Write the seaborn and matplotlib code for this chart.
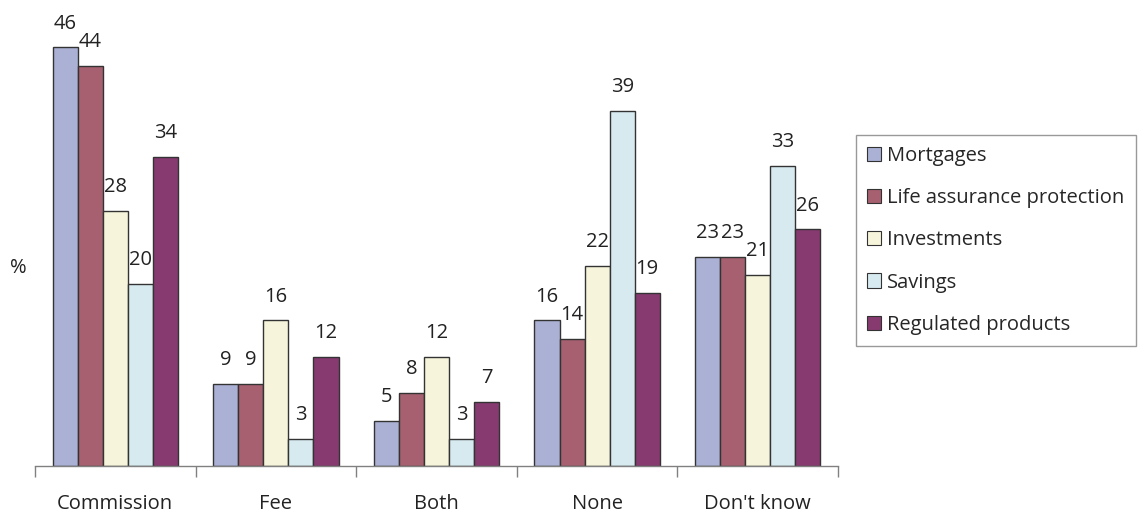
import matplotlib
matplotlib.use("Agg")
import matplotlib.pyplot as plt
import seaborn as sns
import pandas as pd
from matplotlib.ticker import FixedLocator

categories = ["Commission", "Fee", "Both", "None", "Don't know"]
series = ["Mortgages", "Life assurance protection", "Investments", "Savings", "Regulated products"]
mortgages = [46, 9, 5, 16, 23]
life_assurance = [44, 9, 8, 14, 23]
investments = [28, 16, 12, 22, 21]
savings = [20, 3, 3, 39, 33]
regulated = [34, 12, 7, 19, 26]
colors = ["#abb1d5", "#a6606f", "#f6f4da", "#d7eaf0", "#873a70"]

values = [mortgages, life_assurance, investments, savings, regulated]
df = pd.DataFrame(
    [(cat, s, v[i]) for s, v in zip(series, values) for i, cat in enumerate(categories)],
    columns=["category", "product", "pct"],
)

sns.set_theme(style="white")
plt.rcParams["font.family"] = ["Open Sans", "DejaVu Sans"]
FS = 14.5

fig = plt.figure(figsize=(11.4, 5.12), dpi=100)
ax = fig.add_axes([35 / 1140, 46 / 512, 803 / 1140, 455 / 512])

sns.barplot(
    data=df, x="category", y="pct", hue="product", hue_order=series,
    order=categories, palette=colors, width=0.78, gap=0,
    edgecolor="#333333", linewidth=1.0, saturation=1, ax=ax, legend=True,
)

for cont in ax.containers:
    ax.bar_label(cont, fmt="%d", padding=10, fontsize=FS, color="#222222")

ax.set_xlim(-0.5, len(categories) - 0.5)
ax.set_ylim(0, 50)
ax.set_xlabel("")
ax.set_ylabel("")
ax.set_yticks([])
for side in ["top", "right", "left"]:
    ax.spines[side].set_visible(False)
ax.spines["bottom"].set_color("#808080")
ax.spines["bottom"].set_linewidth(1.0)

ax.tick_params(axis="x", which="major", length=0, pad=20, labelsize=FS, labelcolor="#222222")
ax.xaxis.set_minor_locator(FixedLocator([i - 0.5 for i in range(len(categories) + 1)]))
ax.tick_params(axis="x", which="minor", bottom=True, length=8, width=1.0, color="#808080", direction="out")

fig.text(18 / 1140, 1 - 268 / 512, "%", fontsize=FS, color="#222222", ha="center", va="center")

leg = ax.legend(
    loc="upper left", bbox_to_anchor=(856 / 1140, 1 - 135 / 512), bbox_transform=fig.transFigure,
    frameon=True, fancybox=False, fontsize=FS, handlelength=0.7, handleheight=0.7,
    handletextpad=0.3, labelspacing=1.1, borderpad=0.55, borderaxespad=0,
)
leg.get_frame().set_edgecolor("#808080")
leg.get_frame().set_linewidth(1.0)
for h in leg.legend_handles:
    h.set_edgecolor("#333333")
    h.set_linewidth(0.8)

fig.savefig("out.png", dpi=100)
